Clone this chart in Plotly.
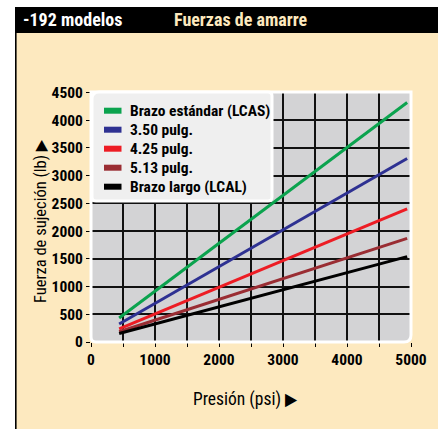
import plotly.graph_objects as go

# Clamping force vs. pressure for each arm option
series_names = ["Brazo estándar (LCAS)", "3.50 pulg.", "4.25 pulg.", "5.13 pulg.", "Brazo largo (LCAL)"]
series_colors = ["#0BA34E", "#2E3192", "#ED1C24", "#9A2D33", "#000000"]
pressure_psi = [440, 4940]
force_lcas = [432, 4320]
force_350 = [325, 3310]
force_425 = [235, 2400]
force_513 = [185, 1870]
force_lcal = [152, 1540]
force_series = [force_lcas, force_350, force_425, force_513, force_lcal]

x_ticks = [0, 1000, 2000, 3000, 4000, 5000]
y_ticks = list(range(0, 4501, 500))

W, H = 438, 429
L, R, T, B = 91, 27, 92, 87
PW, PH = W - L - R, H - T - B

CREAM = "#FDE9BF"
PLOT_GRAY = "#D3D3D5"
FONT = "Liberation Sans Narrow, Roboto Condensed, DejaVu Sans Condensed, Arial Narrow, sans-serif"


def px(x):
    return (x - L) / PW


def py(y):
    return (H - B - y) / PH


fig = go.Figure()
for name, color, ys in zip(series_names, series_colors, force_series):
    fig.add_trace(go.Scatter(x=pressure_psi, y=ys, mode="lines", name=name,
                             line=dict(color=color, width=3), showlegend=False))

shapes = []
# page frame: white margin, black header bar and left rule
shapes.append(dict(type="rect", xref="paper", yref="paper", x0=px(-5), x1=px(15), y0=py(440), y1=py(-5),
                   fillcolor="white", line=dict(width=0), layer="below"))
shapes.append(dict(type="rect", xref="paper", yref="paper", x0=px(-5), x1=px(445), y0=py(7), y1=py(-5),
                   fillcolor="white", line=dict(width=0), layer="below"))
shapes.append(dict(type="rect", xref="paper", yref="paper", x0=px(15), x1=px(445), y0=py(33), y1=py(7),
                   fillcolor="black", line=dict(width=0), layer="below"))
shapes.append(dict(type="line", xref="paper", yref="paper", x0=px(15.8), x1=px(15.8), y0=py(440), y1=py(30),
                   line=dict(color="black", width=1.6), layer="below"))


def rounded_path(x0, y0, x1, y1, r_tl, r_tr, r_br, r_bl):
    # pixel corners -> paper coordinates, with optional rounded corners
    def P(x, y):
        return f"{px(x):.5f},{py(y):.5f}"
    d = f"M{P(x0 + r_tl, y0)} L{P(x1 - r_tr, y0)} Q{P(x1, y0)} {P(x1, y0 + r_tr)} "
    d += f"L{P(x1, y1 - r_br)} Q{P(x1, y1)} {P(x1 - r_br, y1)} "
    d += f"L{P(x0 + r_bl, y1)} Q{P(x0, y1)} {P(x0, y1 - r_bl)} "
    d += f"L{P(x0, y0 + r_tl)} Q{P(x0, y0)} {P(x0 + r_tl, y0)} Z"
    return d


# plot panel fill and its white rim
panel = rounded_path(L, T, L + PW, T + PH, 0, 0, 7, 5)
shapes.append(dict(type="path", xref="paper", yref="paper", path=panel,
                   fillcolor=PLOT_GRAY, line=dict(width=0), layer="below"))
shapes.append(dict(type="path", xref="paper", yref="paper", path=panel,
                   fillcolor="rgba(0,0,0,0)", line=dict(color="white", width=3), layer="above"))

# legend box
shapes.append(dict(type="path", xref="paper", yref="paper",
                   path=rounded_path(92, 92, 272, 201, 7, 4, 4, 4),
                   fillcolor="#EFEFEF", line=dict(color="white", width=3), layer="above"))

annotations = []
row_y0, row_step = 110.7, 19.0
for i, (name, color) in enumerate(zip(series_names, series_colors)):
    cy = row_y0 + i * row_step
    shapes.append(dict(type="rect", xref="paper", yref="paper", x0=px(104), x1=px(121.5),
                       y0=py(cy + 3), y1=py(cy - 3), fillcolor=color, line=dict(width=0), layer="above"))
    annotations.append(dict(x=px(128), y=py(cy), xref="paper", yref="paper", text=name,
                            showarrow=False, xanchor="left", yanchor="middle",
                            font=dict(family=FONT, size=15.5, color="black", weight="bold")))

# header texts
annotations.append(dict(x=px(21), y=py(20), xref="paper", yref="paper", text="-192 modelos",
                        showarrow=False, xanchor="left", yanchor="middle",
                        font=dict(family=FONT, size=18, color="white", weight="bold")))
annotations.append(dict(x=px(172), y=py(20), xref="paper", yref="paper", text="Fuerzas de amarre",
                        showarrow=False, xanchor="left", yanchor="middle",
                        font=dict(family=FONT, size=18, color=CREAM, weight="bold")))

# axis titles
annotations.append(dict(x=px(40), y=py(221), xref="paper", yref="paper",
                        text="Fuerza de sujeción (lb) ▶", textangle=-90,
                        showarrow=False, xanchor="center", yanchor="middle",
                        font=dict(family=FONT, size=16.5, color="black")))
annotations.append(dict(x=px(245), y=py(399), xref="paper", yref="paper",
                        text="Presión (psi) ▶",
                        showarrow=False, xanchor="center", yanchor="middle",
                        font=dict(family=FONT, size=17.5, color="black")))

tick_font = dict(family=FONT, size=15.5, color="black", weight="bold")

fig.update_layout(
    width=W, height=H,
    margin=dict(l=L, r=R, t=T, b=B, pad=0),
    paper_bgcolor=CREAM,
    plot_bgcolor="rgba(0,0,0,0)",
    shapes=shapes,
    annotations=annotations,
    xaxis=dict(range=[0, 5000], tickvals=x_ticks, ticktext=[str(v) for v in x_ticks],
               ticks="outside", ticklen=3, tickcolor="rgba(0,0,0,0)", tickfont=tick_font,
               showgrid=True, gridcolor="#111111", gridwidth=1.6, zeroline=False, showline=False,
               minor=dict(dtick=500, ticks="outside", ticklen=4, tickcolor="black", tickwidth=1.2,
                          showgrid=True, gridcolor="#111111", gridwidth=1.6),
               fixedrange=True),
    yaxis=dict(range=[0, 4510], tickvals=y_ticks, ticktext=[str(v) for v in y_ticks],
               ticks="outside", ticklen=4, tickcolor="black", tickwidth=1.2, tickfont=tick_font,
               showgrid=True, gridcolor="#111111", gridwidth=1.6, zeroline=False, showline=False,
               fixedrange=True),
    showlegend=False,
)

fig.write_html("out.html")
